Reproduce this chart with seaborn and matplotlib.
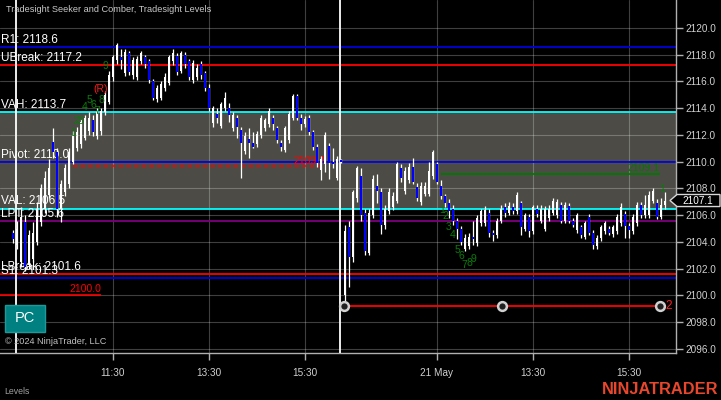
import matplotlib
matplotlib.use("Agg")
import numpy as np
import pandas as pd
import seaborn as sns
import matplotlib.pyplot as plt
from matplotlib.patches import Rectangle, Polygon
from matplotlib.transforms import blended_transform_factory

# ---------------- data ----------------
opens = [2104.7, 2103.8, 2102.5, 2105.5, 2102.3, 2102.7, 2104.0, 2105.5, 2106.5, 2107.5,
         2111.5, 2110.7, 2106.5, 2107.7, 2108.3, 2110.0, 2111.0, 2111.3, 2111.8, 2112.3,
         2113.1, 2111.9, 2112.3, 2113.7, 2114.5, 2116.3, 2117.6, 2117.8, 2116.6, 2118.1,
         2116.5, 2116.3, 2117.5, 2117.8, 2117.5, 2116.0, 2114.7, 2114.8, 2115.5, 2115.9,
         2117.5, 2117.9, 2116.8, 2118.0, 2117.5, 2116.1, 2116.3, 2117.3, 2116.6, 2115.5,
         2112.9, 2113.6, 2112.7, 2114.0, 2114.0, 2112.5, 2113.3, 2112.4, 2110.8, 2111.7,
         2111.4, 2111.3, 2112.0, 2112.5, 2112.8, 2113.3, 2112.5, 2111.4, 2110.9, 2111.6,
         2113.3, 2114.9, 2113.3, 2112.8, 2113.3, 2112.2, 2111.1, 2109.4, 2109.8, 2111.2,
         2110.0, 2108.8, 2110.1, 2100.0, 2105.1, 2102.9, 2107.3, 2108.9, 2106.2, 2103.2,
         2106.0, 2108.2, 2107.7, 2105.3, 2106.3, 2106.6, 2107.1, 2109.5, 2107.8, 2108.6,
         2109.6, 2108.1, 2107.0, 2107.6, 2107.6, 2108.9, 2109.8, 2108.2, 2107.4, 2106.9,
         2106.5, 2105.6, 2105.0, 2103.5, 2103.7, 2104.4, 2103.9, 2105.4, 2105.4, 2106.2,
         2104.7, 2104.5, 2105.6, 2106.6, 2106.2, 2106.6, 2106.3, 2106.9, 2105.0, 2105.9,
         2104.8, 2106.5, 2105.6, 2105.0, 2105.8, 2106.2, 2106.0, 2106.8, 2105.6, 2106.7,
         2105.6, 2104.9, 2105.1, 2104.4, 2105.9, 2104.7, 2103.7, 2104.3, 2104.8, 2105.0,
         2104.6, 2104.8, 2105.4, 2106.1, 2105.2, 2104.8, 2105.4, 2106.8, 2106.0, 2106.0,
         2107.1, 2106.9, 2105.9, 2106.8]
highs = [2104.9, 2105.6, 2106.6, 2106.0, 2104.9, 2105.5, 2107.0, 2108.3, 2109.3, 2110.2,
         2112.5, 2111.0, 2108.6, 2109.8, 2111.0, 2112.3, 2112.6, 2113.2, 2113.5, 2113.7,
         2113.5, 2114.0, 2114.0, 2115.3, 2116.8, 2118.0, 2118.9, 2118.4, 2118.4, 2118.3,
         2117.8, 2117.9, 2118.3, 2118.0, 2117.7, 2116.2, 2115.7, 2116.0, 2116.6, 2118.0,
         2118.4, 2118.1, 2118.3, 2118.2, 2117.7, 2117.6, 2117.3, 2117.5, 2116.8, 2115.8,
         2114.2, 2114.0, 2114.5, 2115.2, 2114.4, 2113.7, 2113.5, 2112.6, 2112.2, 2112.5,
         2112.2, 2112.3, 2113.5, 2113.3, 2114.0, 2113.5, 2112.7, 2111.6, 2112.7, 2113.8,
         2115.1, 2115.1, 2113.6, 2113.4, 2113.5, 2112.4, 2111.3, 2110.4, 2112.2, 2111.4,
         2111.0, 2110.4, 2110.2, 2105.3, 2105.6, 2107.9, 2109.7, 2109.5, 2106.5, 2106.5,
         2109.0, 2109.1, 2108.0, 2106.8, 2108.0, 2107.7, 2110.0, 2109.8, 2109.6, 2109.9,
         2110.3, 2108.4, 2108.5, 2108.5, 2110.0, 2110.9, 2110.0, 2108.6, 2107.6, 2107.2,
         2106.8, 2105.8, 2105.2, 2104.6, 2104.7, 2105.6, 2106.0, 2106.5, 2106.7, 2106.5,
         2104.9, 2105.8, 2106.8, 2106.9, 2107.0, 2106.9, 2107.7, 2107.1, 2106.2, 2106.1,
         2106.8, 2106.8, 2106.8, 2106.7, 2106.8, 2107.3, 2107.2, 2107.0, 2107.0, 2106.9,
         2105.8, 2106.2, 2105.3, 2105.6, 2106.1, 2104.9, 2104.5, 2105.3, 2105.6, 2105.2,
         2105.3, 2106.1, 2106.9, 2106.3, 2105.4, 2106.1, 2107.0, 2107.0, 2107.5, 2107.8,
         2108.0, 2107.2, 2107.3, 2107.7]
lows = [2103.9, 2103.5, 2102.1, 2101.8, 2102.0, 2102.5, 2103.8, 2105.2, 2106.2, 2107.3,
        2110.3, 2105.9, 2105.5, 2107.4, 2108.0, 2109.8, 2110.8, 2111.0, 2111.6, 2112.0,
        2111.9, 2111.7, 2112.0, 2113.5, 2114.3, 2116.0, 2117.3, 2116.9, 2116.4, 2116.5,
        2116.2, 2116.1, 2117.3, 2117.0, 2115.9, 2114.6, 2114.5, 2114.6, 2115.3, 2115.7,
        2117.2, 2116.5, 2116.6, 2117.0, 2116.1, 2115.9, 2116.1, 2116.2, 2115.3, 2113.8,
        2112.6, 2112.9, 2112.5, 2113.8, 2113.0, 2112.3, 2111.8, 2108.8, 2110.6, 2110.3,
        2111.0, 2111.1, 2111.8, 2112.3, 2112.6, 2112.4, 2111.4, 2110.8, 2110.7, 2111.4,
        2113.1, 2113.1, 2112.4, 2112.6, 2112.0, 2110.9, 2109.6, 2108.6, 2109.2, 2108.7,
        2109.5, 2108.6, 2109.9, 2099.1, 2100.6, 2102.5, 2107.0, 2105.6, 2103.0, 2103.0,
        2105.8, 2106.9, 2104.6, 2105.0, 2106.1, 2106.4, 2106.9, 2108.5, 2107.6, 2108.4,
        2108.3, 2107.1, 2106.8, 2107.4, 2107.4, 2108.7, 2108.3, 2107.2, 2106.6, 2105.8,
        2105.3, 2104.2, 2103.8, 2103.3, 2103.5, 2103.8, 2103.7, 2105.2, 2105.2, 2104.4,
        2104.1, 2104.3, 2105.4, 2105.9, 2106.0, 2106.1, 2106.1, 2104.5, 2104.8, 2104.4,
        2104.6, 2105.9, 2105.4, 2104.8, 2105.6, 2106.0, 2105.8, 2105.4, 2105.4, 2105.4,
        2105.1, 2104.7, 2104.3, 2104.2, 2104.5, 2103.5, 2103.5, 2104.1, 2104.6, 2104.5,
        2104.4, 2104.6, 2105.2, 2104.3, 2104.3, 2104.6, 2105.2, 2105.8, 2105.8, 2105.8,
        2106.9, 2105.7, 2105.7, 2106.5]
closes = [2104.2, 2105.0, 2105.9, 2102.1, 2104.5, 2104.7, 2106.5, 2108.0, 2108.8, 2109.5,
          2110.7, 2106.5, 2108.3, 2109.5, 2110.7, 2112.0, 2112.2, 2113.0, 2113.3, 2113.3,
          2112.2, 2113.7, 2113.8, 2115.0, 2116.5, 2117.8, 2118.7, 2117.6, 2118.2, 2116.7,
          2117.6, 2117.7, 2118.1, 2117.3, 2116.1, 2114.8, 2115.5, 2115.8, 2116.3, 2117.8,
          2118.1, 2116.7, 2118.1, 2117.3, 2116.3, 2117.4, 2117.0, 2116.5, 2115.5, 2114.0,
          2114.0, 2113.3, 2114.3, 2114.8, 2113.5, 2113.5, 2112.6, 2111.4, 2111.9, 2111.4,
          2111.1, 2112.1, 2113.3, 2113.1, 2113.8, 2112.8, 2111.6, 2111.1, 2112.5, 2113.6,
          2114.9, 2113.3, 2112.8, 2113.2, 2112.2, 2111.1, 2109.9, 2110.2, 2112.0, 2109.9,
          2109.8, 2110.2, 2110.0, 2104.8, 2102.9, 2107.7, 2109.5, 2106.0, 2103.3, 2106.2,
          2108.7, 2107.8, 2105.3, 2106.5, 2107.7, 2107.4, 2109.8, 2108.8, 2109.3, 2109.6,
          2108.5, 2107.3, 2108.2, 2108.2, 2109.3, 2110.7, 2108.5, 2107.4, 2106.9, 2106.3,
          2105.6, 2105.0, 2104.0, 2104.3, 2104.4, 2104.2, 2105.8, 2106.3, 2106.4, 2104.7,
          2104.5, 2105.6, 2106.5, 2106.2, 2106.7, 2106.3, 2107.5, 2105.1, 2106.0, 2104.8,
          2106.6, 2106.1, 2106.5, 2106.5, 2106.5, 2107.1, 2107.0, 2105.6, 2106.8, 2105.6,
          2105.3, 2106.0, 2104.5, 2105.4, 2104.7, 2103.8, 2104.3, 2105.1, 2105.4, 2104.7,
          2105.1, 2105.9, 2106.6, 2105.2, 2104.9, 2105.9, 2106.8, 2106.0, 2106.8, 2107.5,
          2107.8, 2105.9, 2106.8, 2107.1]

level_names = ["R1", "UBreak", "VAH", "Pivot", "VAL", "LPT", "LBreak", "S1"]
level_values = [2118.6, 2117.2, 2113.7, 2110.0, 2106.5, 2105.6, 2101.6, 2101.3]

x_tick_bars = [25, 49, 73, 106, 130, 154]
x_tick_labels = ["11:30", "13:30", "15:30", "21 May", "13:30", "15:30"]
y_ticks = [2096, 2098, 2100, 2102, 2104, 2106, 2108, 2110, 2112, 2114, 2116, 2118, 2120]

prior_close_level = 2109.7
round_level = 2100.0
target_level = 2109.1
signal_level = 2099.2
last_price = 2107.1

day1_count_labels = ["1", "2", "3", "4", "5", "6", "7", "8", "9"]
day1_count_bars = [15, 15.75, 17, 18, 19, 20, 21, 22, 23]
day1_count_prices = [2112.15, 2113.05, 2113.05, 2114.1, 2114.6, 2114.25, 2113.8, 2114.6, 2117.15]
day2_count_labels = ["1", "2", "3", "4", "5", "6", "7", "8", "9"]
day2_count_bars = [107.25, 108, 109, 110, 111, 112, 112.75, 114, 115]
day2_count_prices = [2106.4, 2105.95, 2105.1, 2104.5, 2103.4, 2102.95, 2102.3, 2102.4, 2102.7]

df = pd.DataFrame({"open": opens, "high": highs, "low": lows, "close": closes})
df["bar"] = np.arange(len(df))
df["up"] = df["close"] >= df["open"]

# ---------------- style ----------------
sns.set_style("dark", {"axes.facecolor": "black", "figure.facecolor": "black"})
plt.rcParams["font.family"] = ["Liberation Sans", "DejaVu Sans"]

W, H = 721, 400
fig = plt.figure(figsize=(W / 100, H / 100), dpi=100, facecolor="black")
ax = fig.add_axes([0, 47 / H, 676 / W, 353 / H])
ax.set_facecolor("black")

ax.set_xlim(-3.25, 165.75)
ax.set_ylim(2095.70, 2122.09)

level_colors = {"R1": "#0000dd", "UBreak": "#ff0000", "VAH": "#00ffff", "Pivot": "#0000dd",
                "VAL": "#00ffff", "LPT": "#800080", "LBreak": "#ff0000", "S1": "#0000dd"}
lv = dict(zip(level_names, level_values))

# value area band
ax.axhspan(lv["VAL"], lv["VAH"], color="#4c4b45", zorder=0.2, lw=0)

# grid
ax.set_yticks(y_ticks)
ax.set_yticklabels([f"{v:.1f}" for v in y_ticks])
ax.set_xticks(x_tick_bars)
ax.set_xticklabels(x_tick_labels)
ax.grid(True, color="white", alpha=0.25, lw=0.8)
ax.set_axisbelow(True)

# levels
trans_lab = blended_transform_factory(ax.transAxes, ax.transData)
for name, val in zip(level_names, level_values):
    ax.axhline(val, color=level_colors[name], lw=1.3, zorder=2)
    ax.text(0.001, val + 0.08, f"{name}: {val:.1f}", transform=trans_lab, color="white",
            fontsize=8.5, va="bottom", ha="left", zorder=2.5)

# session breaks
for sb in [0.75, 81.75]:
    ax.axvline(sb, color="white", lw=1.3, zorder=2.6)

# short lines
ax.hlines(round_level, -3.25, 22, color="#ff0000", lw=1.2, zorder=2)
ax.text(22, round_level + 0.1, f"{round_level:.1f}", color="#ff0000", fontsize=7.5,
        ha="right", va="bottom", zorder=2.5)
ax.hlines(prior_close_level, 15, 78, color="#ff0000", lw=1.1, linestyles=(0, (3, 2)), zorder=2)
ax.text(78, prior_close_level - 0.05, f"{prior_close_level:.1f}", color="#ff0000", fontsize=7.5,
        ha="right", va="bottom", zorder=2.5)
ax.hlines(target_level, 107, 161.75, color="#007a00", lw=1.3, zorder=2)
ax.text(161.75, target_level + 0.05, f"{target_level:.1f}", color="#007a00", fontsize=7.5,
        ha="right", va="bottom", zorder=2.5)
ax.hlines(signal_level, 82.75, 161.75, color="#ff0000", lw=1.3, zorder=2)
sns.scatterplot(x=[82.75, 122.25, 161.75], y=[signal_level] * 3, ax=ax, s=40, marker="o",
                facecolor="#202020", edgecolor="#d0d0d0", linewidth=1.8, zorder=4, legend=False)
ax.text(163.0, signal_level, "2", color="#ff2020", fontsize=8.5, ha="left", va="center", zorder=4)

# candles
ax.vlines(df["bar"], df["low"], df["high"], color="white", lw=0.9, zorder=3)
body_bottom = np.minimum(df["open"], df["close"])
body_h = np.maximum(np.abs(df["close"] - df["open"]), 0.12)
ax.bar(df["bar"], body_h, bottom=body_bottom, width=0.62,
       color=np.where(df["up"], "white", "#0000ff"), lw=0, zorder=3.2)

# count labels
for lab, b, p in zip(day1_count_labels, day1_count_bars, day1_count_prices):
    ax.text(b, p, lab, color="#0a7d0a", fontsize=7.5, ha="center", va="center", zorder=5)
ax.text(22, 2115.4, "(R)", color="#ff1a1a", fontsize=7.5, ha="center", va="center", zorder=5)
for lab, b, p in zip(day2_count_labels, day2_count_bars, day2_count_prices):
    ax.text(b, p, lab, color="#0a7d0a", fontsize=7.5, ha="center", va="center", zorder=5)
ax.text(162.25, 2107.96, "1", color="#0a7d0a", fontsize=7.5, ha="center", va="center", zorder=5)

# axes cosmetics
ax.yaxis.tick_right()
for s in ["left", "top"]:
    ax.spines[s].set_visible(False)
for s in ["right", "bottom"]:
    ax.spines[s].set_visible(True)
    ax.spines[s].set_color("#b0b0b0")
    ax.spines[s].set_linewidth(1)
ax.tick_params(axis="y", which="both", direction="out", length=5, width=1, color="#b0b0b0",
               labelcolor="#d0d0d0", labelsize=7.2, pad=2, left=False, right=True)
ax.tick_params(axis="x", which="both", direction="out", length=5, width=1, color="#b0b0b0",
               labelcolor="#d0d0d0", labelsize=7.2, pad=6, bottom=True)

# last price marker
hh = 0.45
pts = [(670 / 676, last_price), (677 / 676, last_price + hh), (720 / 676, last_price + hh),
       (720 / 676, last_price - hh), (677 / 676, last_price - hh)]
poly = Polygon(pts, closed=True, transform=trans_lab, facecolor="black", edgecolor="#d8d8d8",
               lw=1, clip_on=False, zorder=10)
ax.add_patch(poly)
ax.text(698 / 676, last_price, f"{last_price:.1f}", transform=trans_lab, color="white",
        fontsize=7.2, ha="center", va="center", clip_on=False, zorder=11)

# figure texts
fig.text(6 / W, 1 - 10 / H, "Tradesight Seeker and Comber, Tradesight Levels", color="#c8c8c8",
         fontsize=6.6, ha="left", va="center")
fig.add_artist(Rectangle((5 / W, 1 - 332 / H), 40 / W, 27 / H, transform=fig.transFigure,
                         facecolor="#008080", edgecolor="#1a9a9a", lw=1, zorder=20))
fig.text(25 / W, 1 - 318.5 / H, "PC", color="white", fontsize=10.5, ha="center", va="center",
         zorder=21)
fig.text(5 / W, 1 - 342 / H, "\u00a9 2024 NinjaTrader, LLC", color="#c0c0c0", fontsize=6.6,
         ha="left", va="center", zorder=21)
fig.text(4 / W, 1 - 391 / H, "Levels", color="#a0a0a0", fontsize=6.3, ha="left", va="center")
fig.text(718 / W, 1 - 389.5 / H, "NINJATRADER", color="#e8472d", fontsize=11.8, fontweight="bold",
         ha="right", va="center")

fig.savefig("out.png", dpi=100, facecolor="black")
